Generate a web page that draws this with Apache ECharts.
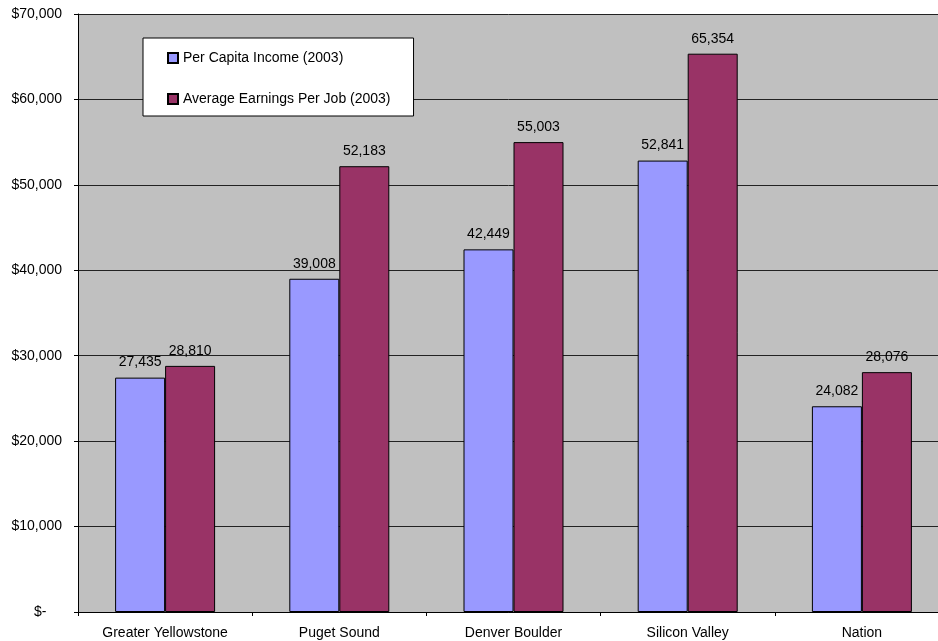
<!DOCTYPE html>
<html>
<head>
<meta charset="utf-8">
<script src="https://cdn.jsdelivr.net/npm/echarts@6/dist/echarts.min.js"></script>
<style>
  html, body { margin: 0; padding: 0; background: #fff; }
  #chart { width: 938px; height: 641px; }
</style>
</head>
<body>
<div id="chart"></div>
<script>
var categories = ['Greater Yellowstone', 'Puget Sound', 'Denver Boulder', 'Silicon Valley', 'Nation'];
var perCapitaIncome = [27435, 39008, 42449, 52841, 24082];
var avgEarningsPerJob = [28810, 52183, 55003, 65354, 28076];
var seriesNames = ['Per Capita Income (2003)', 'Average Earnings Per Job (2003)'];

var FONT = '"Liberation Sans", Arial, sans-serif';

function commas(v) {
    return String(v).replace(/\B(?=(\d{3})+(?!\d))/g, ',');
}

var myChart = echarts.init(document.getElementById('chart'));
var labelStyle = {
    show: true,
    position: 'top',
    distance: 8,
    color: '#000',
    fontSize: 14,
    fontFamily: FONT,
    formatter: function (p) { return commas(p.value); }
};
var option = {
    backgroundColor: '#fff',
    animation: false,
    textStyle: { fontFamily: FONT },
    legend: {
        orient: 'vertical',
        left: 143,
        top: 38,
        padding: [12, 23, 9, 24],
        itemGap: 25,
        itemWidth: 10,
        itemHeight: 10,
        icon: 'rect',
        backgroundColor: '#fff',
        borderColor: '#000',
        borderWidth: 1,
        borderRadius: 0,
        textStyle: { color: '#000', fontSize: 14, fontFamily: FONT, lineHeight: 16 },
        data: seriesNames
    },
    grid: {
        left: 78,
        top: 14,
        bottom: 29,
        width: 871,
        outerBoundsMode: 'none',
        containLabel: false,
        show: true,
        backgroundColor: '#C0C0C0',
        borderWidth: 0
    },
    xAxis: {
        type: 'category',
        data: categories,
        axisLine: { show: true, lineStyle: { color: '#000', width: 1 } },
        axisTick: { show: true, length: 4, lineStyle: { color: '#000' } },
        axisLabel: { color: '#000', fontSize: 14, fontFamily: FONT, margin: 14, interval: 0 },
        splitLine: { show: false }
    },
    yAxis: {
        type: 'value',
        min: 0,
        max: 70000,
        interval: 10000,
        axisLine: { show: true, lineStyle: { color: '#000', width: 1 } },
        axisTick: { show: true, length: 4, lineStyle: { color: '#000' } },
        axisLabel: {
            color: '#000',
            fontSize: 14,
            fontFamily: FONT,
            margin: 16,
            formatter: function (v) {
                //零值用会计格式
                if (v === 0) return '$-    ';
                return '$' + commas(v);
            }
        },
        splitLine: { show: true, lineStyle: { color: '#222', width: 1 } }
    },
    series: [{
            name: seriesNames[0],
            type: 'bar',
            data: perCapitaIncome,
            barWidth: 50,
            barGap: '0%',
            itemStyle: { color: '#9999FF', borderColor: '#000', borderWidth: 1 },
            label: labelStyle
        },
        {
            name: seriesNames[1],
            type: 'bar',
            data: avgEarningsPerJob,
            barWidth: 50,
            barGap: '0%',
            itemStyle: { color: '#993366', borderColor: '#000', borderWidth: 1 },
            label: labelStyle
        }
    ]
};
myChart.setOption(option);
</script>
</body>
</html>
